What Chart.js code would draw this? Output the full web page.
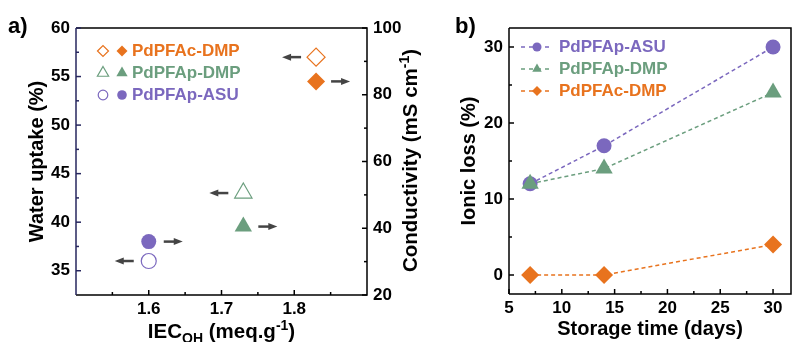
<!DOCTYPE html>
<html>
<head>
<meta charset="utf-8">
<script src="https://cdn.jsdelivr.net/npm/chart.js@4.4.1/dist/chart.umd.min.js"></script>
<style>
  body { margin: 0; background: #fff; }
  #wrap { position: relative; width: 792px; height: 342px; overflow: hidden; background: #fff; }
  canvas { position: absolute; top: 0; }
  #chartA { left: 0; }
  #chartB { left: 430px; }
</style>
</head>
<body>
<div id="wrap">
  <canvas id="chartA" width="430" height="342"></canvas>
  <canvas id="chartB" width="362" height="342"></canvas>
</div>
<script>
// a) water uptake / conductivity vs IEC
const samples = ['PdPFAc-DMP', 'PdPFAp-DMP', 'PdPFAp-ASU'];
const iec = [1.83, 1.73, 1.60];
const waterUptake = [57, 43, 36];
const conductivity = [84, 40.5, 36];
const iecTicks = [1.6, 1.7, 1.8];
const iecMinor = [1.55, 1.65, 1.75, 1.85];
const uptakeTicks = [35, 40, 45, 50, 55, 60];
const uptakeMinor = [37.5, 42.5, 47.5, 52.5, 57.5];
const condTicks = [20, 40, 60, 80, 100];
const condMinor = [30, 50, 70, 90];

// b) ionic loss vs storage time
const days = [7, 14, 30];
const lossAsu = [12, 17, 30];
const lossPDmp = [12, 14, 24];
const lossCDmp = [0, 0, 4];
const dayTicks = [5, 10, 15, 20, 25, 30];
const dayMinor = [7.5, 12.5, 17.5, 22.5, 27.5];
const lossTicks = [0, 10, 20, 30];
const lossMinor = [5, 15, 25];

const orange = '#e8731e', green = '#6b9e7e', purple = '#7b68be';
const colors = [orange, green, purple];
const shapes = ['rectRot', 'triangle', 'circle'];
const radii = [9, 10, 7.5];
const FONT = '"Liberation Sans", Arial, sans-serif';

Chart.defaults.font.family = FONT;
Chart.defaults.font.weight = 'bold';
Chart.defaults.color = '#000';

function axis(min, max, ticks, size, pad, extra) {
  return Object.assign({
    type: 'linear', min, max,
    grid: { display: false, drawTicks: false },
    border: { display: false },
    ticks: { font: { size: 17, weight: 'bold' }, padding: pad, maxRotation: 0 },
    afterBuildTicks: s => { s.ticks = ticks.map(v => ({ value: v })); },
    afterFit: s => {
      if (s.isHorizontal()) { s.height = size; s.paddingLeft = 0; s.paddingRight = 0; }
      else { s.width = size; s.paddingTop = 0; s.paddingBottom = 0; }
    }
  }, extra);
}

function marker(ctx, style, r, x, y, color, open) {
  ctx.save();
  ctx.fillStyle = open ? '#fff' : color;
  ctx.strokeStyle = color;
  ctx.lineWidth = 1.2;
  Chart.helpers.drawPoint(ctx, { pointStyle: style, radius: r, rotation: 0, borderWidth: open ? 1.2 : 0 }, x, y);
  ctx.restore();
}

// box + inward ticks
function frame(spec, leftColor) {
  return {
    id: 'frame',
    afterDatasetsDraw(chart) {
      const { ctx, chartArea: a, scales } = chart;
      ctx.save();
      ctx.lineWidth = 1.5;
      ctx.strokeStyle = '#000';
      ctx.beginPath();
      ctx.moveTo(a.left, a.top); ctx.lineTo(a.right, a.top); ctx.lineTo(a.right, a.bottom); ctx.lineTo(a.left, a.bottom);
      ctx.stroke();
      ctx.strokeStyle = leftColor;
      ctx.beginPath(); ctx.moveTo(a.left, a.top); ctx.lineTo(a.left, a.bottom); ctx.stroke();
      spec.forEach(s => {
        const sc = scales[s.id];
        ctx.strokeStyle = s.color || '#000';
        [[s.major, 5], [s.minor, 3]].forEach(([vals, len]) => {
          vals.forEach(v => {
            const p = sc.getPixelForValue(v);
            ctx.beginPath();
            if (s.side === 'bottom') { ctx.moveTo(p, a.bottom); ctx.lineTo(p, a.bottom - len); }
            if (s.side === 'left') { ctx.moveTo(a.left, p); ctx.lineTo(a.left + len, p); }
            if (s.side === 'right') { ctx.moveTo(a.right, p); ctx.lineTo(a.right - len, p); }
            ctx.stroke();
          });
        });
      });
      ctx.restore();
    }
  };
}

function richText(ctx, parts, x, y) {
  // parts: [text, size, dy]
  let w = 0;
  parts.forEach(p => { ctx.font = `bold ${p[1]}px ${FONT}`; p.w = ctx.measureText(p[0]).width; w += p.w; });
  let cx = x - w / 2;
  parts.forEach(p => {
    ctx.font = `bold ${p[1]}px ${FONT}`;
    ctx.fillText(p[0], cx, y + p[2]);
    cx += p.w;
  });
}

const extrasA = {
  id: 'extrasA',
  afterDraw(chart) {
    const { ctx, chartArea: a } = chart;
    ctx.save();
    // arrows: open -> left axis, filled -> right axis
    ctx.strokeStyle = '#444'; ctx.fillStyle = '#444'; ctx.lineWidth = 2.5;
    chart.data.datasets.forEach((ds, di) => {
      const dir = di === 0 ? -1 : 1;
      chart.getDatasetMeta(di).data.forEach(pt => {
        const x0 = pt.x + dir * 15, x1 = pt.x + dir * 34, y = pt.y;
        ctx.beginPath(); ctx.moveTo(x0, y); ctx.lineTo(x1 - dir * 6, y); ctx.stroke();
        ctx.beginPath(); ctx.moveTo(x1, y); ctx.lineTo(x1 - dir * 9, y - 3.5); ctx.lineTo(x1 - dir * 9, y + 3.5); ctx.closePath(); ctx.fill();
      });
    });
    // legend
    const rows = [23, 45, 67];
    const lr = [5.5, 6.5, 4.8];
    samples.forEach((name, i) => {
      const y = a.top + rows[i];
      marker(ctx, shapes[i], lr[i], a.left + 27, y, colors[i], true);
      marker(ctx, shapes[i], lr[i], a.left + 46, y, colors[i], false);
      ctx.fillStyle = colors[i];
      ctx.font = `bold 17px ${FONT}`;
      ctx.textBaseline = 'middle';
      ctx.fillText(name, a.left + 56, y);
    });
    // axis titles with sub/superscripts
    ctx.fillStyle = '#000';
    ctx.textBaseline = 'alphabetic';
    richText(ctx, [['IEC', 20.5, 0], ['OH', 14, 5], [' (meq.g', 20.5, 0], ['-1', 14, -8], [')', 20.5, 0]], (a.left + a.right) / 2, 338);
    ctx.save();
    ctx.translate(417, (a.top + a.bottom) / 2 - 1);
    ctx.rotate(-Math.PI / 2);
    richText(ctx, [['Conductivity (mS cm', 20.5, 0], ['-1', 14, -8], [')', 20.5, 0]], 0, 0);
    ctx.restore();
    ctx.font = `bold 22px ${FONT}`;
    ctx.fillText('a)', 8, 33);
    ctx.restore();
  }
};

const extrasB = {
  id: 'extrasB',
  afterDraw(chart) {
    const { ctx, chartArea: a } = chart;
    ctx.save();
    const rows = [19, 41, 63];
    const lr = [4.5, 5.5, 5];
    const names = ['PdPFAp-ASU', 'PdPFAp-DMP', 'PdPFAc-DMP'];
    const lc = [purple, green, orange];
    const ls = ['circle', 'triangle', 'rectRot'];
    names.forEach((name, i) => {
      const y = a.top + rows[i];
      ctx.strokeStyle = lc[i]; ctx.lineWidth = 1.5; ctx.setLineDash([4, 4]);
      ctx.beginPath(); ctx.moveTo(a.left + 12, y); ctx.lineTo(a.left + 43, y); ctx.stroke();
      ctx.setLineDash([]);
      marker(ctx, ls[i], lr[i], a.left + 28, y, lc[i], false);
      ctx.fillStyle = lc[i];
      ctx.font = `bold 17px ${FONT}`;
      ctx.textBaseline = 'middle';
      ctx.fillText(name, a.left + 50, y);
    });
    ctx.fillStyle = '#000';
    ctx.textBaseline = 'alphabetic';
    ctx.font = `bold 22px ${FONT}`;
    ctx.fillText('b)', 25, 33);
    ctx.restore();
  }
};

new Chart(document.getElementById('chartA'), {
  type: 'scatter',
  data: {
    datasets: [
      {
        label: 'Water uptake',
        data: iec.map((x, i) => ({ x, y: waterUptake[i] })),
        yAxisID: 'y',
        pointStyle: shapes, pointRadius: radii,
        pointBackgroundColor: '#fff', pointBorderColor: colors, pointBorderWidth: 1.2
      },
      {
        label: 'Conductivity',
        data: iec.map((x, i) => ({ x, y: conductivity[i] })),
        yAxisID: 'y2',
        pointStyle: shapes, pointRadius: radii,
        pointBackgroundColor: colors, pointBorderColor: colors, pointBorderWidth: 0
      }
    ]
  },
  options: {
    responsive: false, devicePixelRatio: 1, animation: false, events: [],
    layout: { autoPadding: false, padding: { top: 28, left: 0, right: 0, bottom: 0 } },
    plugins: { legend: { display: false }, tooltip: { enabled: false } },
    scales: {
      x: axis(1.5, 1.9, iecTicks, 47, 4, {}),
      y: axis(32.5, 60, uptakeTicks, 76, 6, {
        position: 'left',
        title: { display: true, text: 'Water uptake (%)', font: { size: 20, weight: 'bold' }, padding: { top: 25, bottom: 0 } }
      }),
      y2: axis(20, 100, condTicks, 63, 6, { position: 'right' })
    }
  },
  plugins: [frame([
    { id: 'x', side: 'bottom', major: iecTicks, minor: iecMinor },
    { id: 'y', side: 'left', major: uptakeTicks, minor: uptakeMinor, color: '#26265e' },
    { id: 'y2', side: 'right', major: condTicks, minor: condMinor }
  ], '#26265e'), extrasA]
});
Chart.getChart('chartA').options.scales.x.ticks.callback = v => v.toFixed(1);
Chart.getChart('chartA').update();

const lineSet = (label, vals, color, style, r, order) => ({
  label, order,
  data: days.map((x, i) => ({ x, y: vals[i] })),
  borderColor: color, backgroundColor: color, borderWidth: 1.5, borderDash: [4, 3],
  pointStyle: style, pointRadius: r, pointBackgroundColor: color, pointBorderColor: color, pointBorderWidth: 0,
  tension: 0
});

new Chart(document.getElementById('chartB'), {
  type: 'line',
  data: {
    datasets: [
      lineSet('PdPFAp-ASU', lossAsu, purple, 'circle', 7.5, 2),
      lineSet('PdPFAp-DMP', lossPDmp, green, 'triangle', 10, 1),
      lineSet('PdPFAc-DMP', lossCDmp, orange, 'rectRot', 9, 0)
    ]
  },
  options: {
    responsive: false, devicePixelRatio: 1, animation: false, events: [],
    layout: { autoPadding: false, padding: { top: 28, left: 0, right: 1, bottom: 0 } },
    plugins: { legend: { display: false }, tooltip: { enabled: false } },
    scales: {
      x: axis(5, 31.7, dayTicks, 48, 4, {
        title: { display: true, text: 'Storage time (days)', font: { size: 20, weight: 'bold' }, padding: { top: 0, bottom: 0.2 } }
      }),
      y: axis(-2.5, 32.5, lossTicks, 79, 6, {
        title: { display: true, text: 'Ionic loss (%)', font: { size: 20, weight: 'bold' }, padding: { top: 27.8, bottom: 0 } }
      })
    }
  },
  plugins: [frame([
    { id: 'x', side: 'bottom', major: dayTicks, minor: dayMinor },
    { id: 'y', side: 'left', major: lossTicks, minor: lossMinor }
  ], '#000'), extrasB]
});
</script>
</body>
</html>
